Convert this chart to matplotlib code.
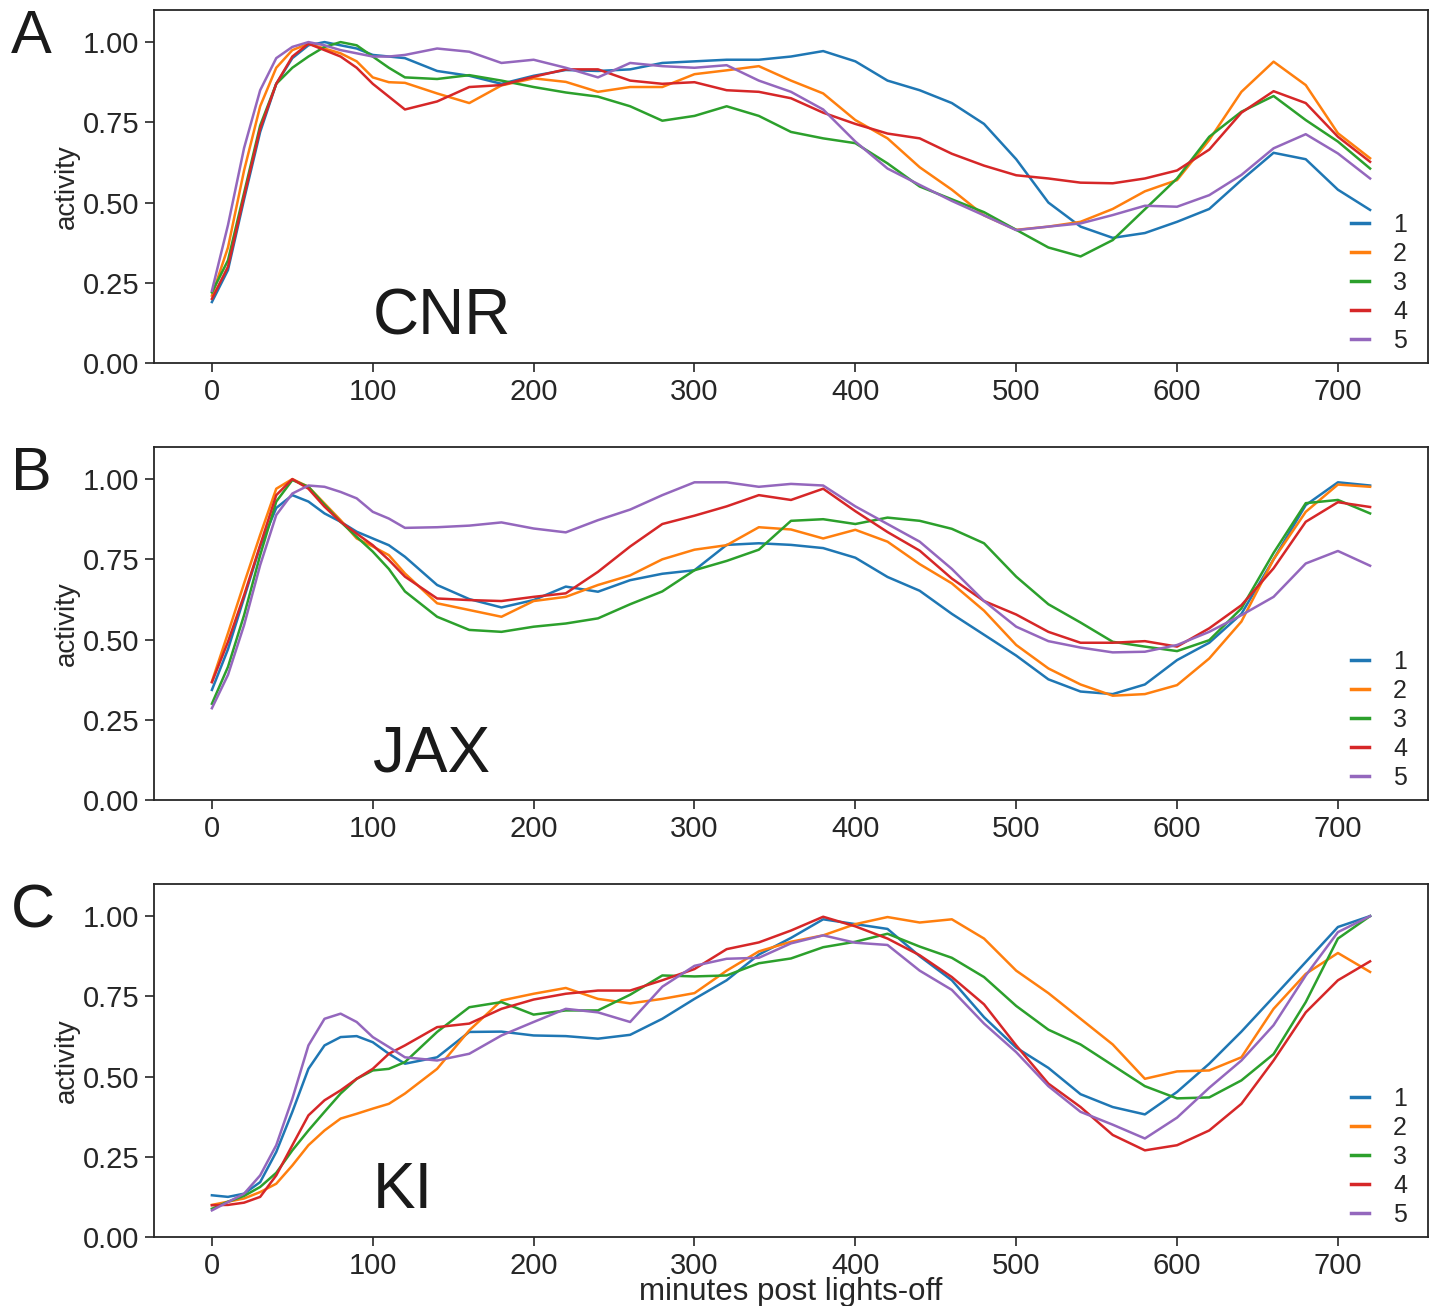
import matplotlib
matplotlib.use("Agg")
import matplotlib.pyplot as plt

# ---------------- data ----------------
T = [0, 10, 20, 30, 40, 50, 60, 70, 80, 90, 100, 110, 120,
     140, 160, 180, 200, 220, 240, 260, 280, 300, 320, 340, 360, 380, 400,
     420, 440, 460, 480, 500, 520, 540, 560, 580, 600, 620, 640, 660, 680, 700, 720]

# Panel A: CNR
cnr_1 = [0.19, 0.29, 0.51, 0.72, 0.87, 0.95, 0.99, 1.00, 0.99, 0.98, 0.96, 0.955, 0.95,
         0.91, 0.895, 0.87, 0.895, 0.913, 0.91, 0.915, 0.935, 0.94, 0.945, 0.945, 0.955, 0.972, 0.94,
         0.88, 0.85, 0.81, 0.745, 0.635, 0.50, 0.425, 0.39, 0.405, 0.44, 0.48, 0.57, 0.655, 0.635, 0.54, 0.477]
cnr_2 = [0.21, 0.36, 0.60, 0.80, 0.92, 0.975, 0.995, 0.98, 0.965, 0.94, 0.89, 0.875, 0.873,
         0.84, 0.81, 0.865, 0.887, 0.876, 0.845, 0.86, 0.86, 0.90, 0.912, 0.925, 0.88, 0.84, 0.757,
         0.70, 0.61, 0.54, 0.46, 0.415, 0.425, 0.44, 0.48, 0.535, 0.57, 0.695, 0.845, 0.939, 0.866, 0.716, 0.638]
cnr_3 = [0.22, 0.32, 0.53, 0.74, 0.87, 0.92, 0.955, 0.985, 1.00, 0.99, 0.955, 0.92, 0.89,
         0.885, 0.897, 0.88, 0.86, 0.843, 0.83, 0.80, 0.755, 0.77, 0.80, 0.77, 0.72, 0.70, 0.685,
         0.622, 0.55, 0.51, 0.47, 0.415, 0.36, 0.332, 0.383, 0.479, 0.575, 0.705, 0.783, 0.832, 0.757, 0.69, 0.606]
cnr_4 = [0.20, 0.30, 0.52, 0.73, 0.87, 0.955, 0.995, 0.975, 0.955, 0.92, 0.87, 0.83, 0.79,
         0.815, 0.86, 0.866, 0.892, 0.915, 0.915, 0.88, 0.87, 0.875, 0.85, 0.845, 0.825, 0.78, 0.745,
         0.715, 0.70, 0.652, 0.615, 0.585, 0.575, 0.562, 0.56, 0.575, 0.60, 0.665, 0.78, 0.847, 0.81, 0.705, 0.627]
cnr_5 = [0.225, 0.43, 0.67, 0.85, 0.95, 0.985, 1.00, 0.99, 0.975, 0.965, 0.955, 0.955, 0.96,
         0.98, 0.97, 0.935, 0.945, 0.92, 0.89, 0.935, 0.925, 0.92, 0.928, 0.88, 0.845, 0.79, 0.69,
         0.606, 0.555, 0.505, 0.46, 0.414, 0.425, 0.435, 0.461, 0.49, 0.487, 0.523, 0.586, 0.669, 0.713, 0.653, 0.575]

# Panel B: JAX
jax_1 = [0.343, 0.47, 0.63, 0.79, 0.91, 0.95, 0.93, 0.893, 0.867, 0.836, 0.815, 0.794, 0.758,
         0.67, 0.626, 0.60, 0.623, 0.665, 0.649, 0.685, 0.705, 0.716, 0.795, 0.80, 0.795, 0.785, 0.755,
         0.695, 0.652, 0.58, 0.515, 0.45, 0.376, 0.338, 0.33, 0.36, 0.436, 0.49, 0.58, 0.75, 0.919, 0.99, 0.98]
jax_2 = [0.369, 0.52, 0.675, 0.826, 0.97, 1.00, 0.976, 0.924, 0.872, 0.815, 0.79, 0.763, 0.706,
         0.613, 0.592, 0.571, 0.62, 0.633, 0.67, 0.70, 0.75, 0.78, 0.794, 0.85, 0.843, 0.815, 0.842,
         0.805, 0.735, 0.675, 0.59, 0.483, 0.41, 0.36, 0.325, 0.33, 0.358, 0.441, 0.556, 0.75, 0.898, 0.983, 0.976]
jax_3 = [0.30, 0.415, 0.576, 0.763, 0.93, 0.997, 0.976, 0.92, 0.867, 0.82, 0.774, 0.72, 0.65,
         0.571, 0.53, 0.524, 0.54, 0.55, 0.566, 0.61, 0.65, 0.716, 0.745, 0.78, 0.87, 0.875, 0.86,
         0.88, 0.87, 0.845, 0.80, 0.696, 0.61, 0.553, 0.493, 0.478, 0.464, 0.498, 0.597, 0.77, 0.925, 0.935, 0.893]
jax_4 = [0.367, 0.493, 0.638, 0.794, 0.95, 1.00, 0.97, 0.914, 0.867, 0.83, 0.794, 0.748, 0.696,
         0.628, 0.623, 0.62, 0.633, 0.644, 0.711, 0.79, 0.86, 0.886, 0.915, 0.95, 0.935, 0.97, 0.90,
         0.835, 0.777, 0.69, 0.62, 0.578, 0.524, 0.49, 0.49, 0.495, 0.478, 0.535, 0.607, 0.722, 0.867, 0.928, 0.913]
jax_5 = [0.286, 0.39, 0.545, 0.732, 0.888, 0.955, 0.98, 0.976, 0.96, 0.94, 0.898, 0.877, 0.848,
         0.85, 0.855, 0.865, 0.846, 0.834, 0.872, 0.905, 0.95, 0.99, 0.99, 0.976, 0.985, 0.98, 0.915,
         0.86, 0.805, 0.72, 0.62, 0.54, 0.495, 0.475, 0.46, 0.462, 0.483, 0.524, 0.576, 0.633, 0.737, 0.776, 0.73]

# Panel C: KI
ki_1 = [0.13, 0.125, 0.135, 0.171, 0.265, 0.39, 0.524, 0.597, 0.623, 0.626, 0.607, 0.571, 0.54,
        0.56, 0.639, 0.64, 0.628, 0.626, 0.618, 0.63, 0.68, 0.742, 0.80, 0.88, 0.932, 0.99, 0.975,
        0.96, 0.875, 0.80, 0.685, 0.59, 0.527, 0.445, 0.405, 0.382, 0.452, 0.54, 0.64, 0.748, 0.857, 0.966, 1.00]
ki_2 = [0.10, 0.11, 0.12, 0.14, 0.166, 0.223, 0.286, 0.332, 0.369, 0.384, 0.40, 0.415, 0.447,
        0.524, 0.644, 0.737, 0.758, 0.776, 0.742, 0.728, 0.742, 0.76, 0.83, 0.89, 0.92, 0.94, 0.975,
        0.997, 0.98, 0.99, 0.93, 0.83, 0.76, 0.68, 0.60, 0.493, 0.516, 0.519, 0.56, 0.711, 0.82, 0.885, 0.826]
ki_3 = [0.088, 0.11, 0.128, 0.156, 0.20, 0.27, 0.332, 0.39, 0.447, 0.493, 0.519, 0.524, 0.545,
        0.639, 0.716, 0.732, 0.693, 0.706, 0.706, 0.755, 0.815, 0.812, 0.815, 0.853, 0.868, 0.903, 0.92,
        0.945, 0.905, 0.87, 0.81, 0.72, 0.646, 0.60, 0.535, 0.47, 0.432, 0.435, 0.488, 0.57, 0.732, 0.93, 1.00]
ki_4 = [0.099, 0.10, 0.107, 0.125, 0.192, 0.286, 0.379, 0.426, 0.457, 0.493, 0.524, 0.571, 0.597,
        0.654, 0.665, 0.711, 0.74, 0.758, 0.768, 0.768, 0.80, 0.835, 0.897, 0.918, 0.955, 0.998, 0.968,
        0.93, 0.878, 0.81, 0.725, 0.597, 0.478, 0.405, 0.318, 0.27, 0.286, 0.332, 0.415, 0.55, 0.70, 0.80, 0.859]
ki_5 = [0.083, 0.109, 0.135, 0.192, 0.286, 0.431, 0.597, 0.68, 0.696, 0.67, 0.623, 0.592, 0.56,
        0.55, 0.571, 0.628, 0.67, 0.711, 0.70, 0.67, 0.78, 0.845, 0.867, 0.87, 0.915, 0.94, 0.917,
        0.91, 0.83, 0.77, 0.665, 0.576, 0.47, 0.39, 0.35, 0.307, 0.372, 0.465, 0.55, 0.66, 0.815, 0.95, 1.00]

series_labels = ["1", "2", "3", "4", "5"]
panel_names = ["CNR", "JAX", "KI"]
panel_letters = ["A", "B", "C"]
y_ticks = [0.00, 0.25, 0.50, 0.75, 1.00]
x_ticks = [0, 100, 200, 300, 400, 500, 600, 700]
colors = ["#1f77b4", "#ff7f0e", "#2ca02c", "#d62728", "#9467bd"]

panels = [
    [cnr_1, cnr_2, cnr_3, cnr_4, cnr_5],
    [jax_1, jax_2, jax_3, jax_4, jax_5],
    [ki_1, ki_2, ki_3, ki_4, ki_5],
]

# ---------------- figure ----------------
plt.rcParams['font.family'] = ['Liberation Sans', 'DejaVu Sans']
W, H = 1432, 1306
fig = plt.figure(figsize=(W / 100, H / 100), dpi=100)

left = 154 / W
width = (1428 - 154) / W
tops = [10, 447, 884]
bottoms = [363, 800, 1237]
letter_base = [53, 490, 927]

text_col = "#262626"

for i, (series, name, letter) in enumerate(zip(panels, panel_names, panel_letters)):
    b = 1 - bottoms[i] / H
    h = (bottoms[i] - tops[i]) / H
    ax = fig.add_axes([left, b, width, h])
    for vals, lab, c in zip(series, series_labels, colors):
        ax.plot(T, vals, color=c, lw=1.8, label=lab)
    ax.set_xlim(-36, 756)
    ax.set_ylim(0, 1.1)
    ax.set_yticks(y_ticks)
    ax.set_yticklabels([f"{v:.2f}" for v in y_ticks])
    ax.set_xticks(x_ticks)
    ax.tick_params(axis='both', direction='out', length=6.5, width=1.2,
                   labelsize=21, pad=4, colors=text_col)
    for sp in ax.spines.values():
        sp.set_linewidth(1.3)
        sp.set_color(text_col)
    ax.set_ylabel("activity", fontsize=20, color=text_col, labelpad=2)
    ax.text(100, 0.09, name, fontsize=46, color="#1a1a1a", ha='left', va='baseline')
    leg = ax.legend(loc='lower right', bbox_to_anchor=(1 - 11 / 1274, 0.0),
                    frameon=False, fontsize=18,
                    handlelength=0.75, handletextpad=0.95, labelspacing=0.2,
                    borderaxespad=0.35, borderpad=0.05)
    for t in leg.get_texts():
        t.set_color(text_col)
    for lh in leg.get_lines():
        lh.set_linewidth(2.5)
    fig.text(11 / W, 1 - letter_base[i] / H, letter, fontsize=44,
             color="#1a1a1a", ha='left', va='baseline')
    if i == 2:
        ax.set_xlabel("minutes post lights-off", fontsize=22.5, color=text_col, labelpad=-2)

fig.savefig("out.png", dpi=100)
